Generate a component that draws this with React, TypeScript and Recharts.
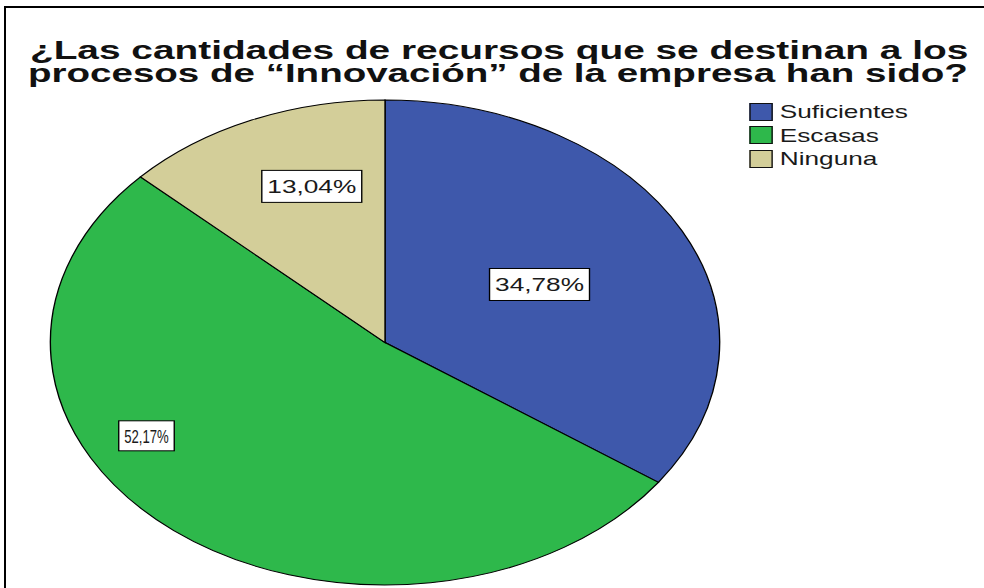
import React from 'react';
import { PieChart, Pie, Cell, Legend } from 'recharts';

// chart values
const categories = ['Suficientes', 'Escasas', 'Ninguna'];
const percentages = [34.78, 52.17, 13.04];
const titleLines = [
  '¿Las cantidades de recursos que se destinan a los',
  'procesos de “Innovación” de la empresa han sido?',
];

const COLORS = ['#3e58ab', '#2eb84b', '#d3ce99'];

// the source picture is stretched sideways; draw narrow and stretch the same way
const STRETCH = 1.38;
const W = 984 / STRETCH;
const H = 588;
const FONT = '"Liberation Sans", Arial, sans-serif';

// where SPSS dropped each percentage box (fraction of radius, angle nudge)
const LABEL_R = [0.52, 0.81, 0.68];
const LABEL_SHIFT = [0, -22.5, -4.7];
const LABEL_SQUEEZE = [1, 0.5, 1];

const chartData = categories.map((name, i) => ({ name, value: percentages[i] }));

const fmt = (v: number) => v.toFixed(2).replace('.', ',') + '%';

const charW = (s: string) =>
  s.split('').reduce((w, c) => w + (c === ',' ? 0.278 : c === '%' ? 0.889 : 0.556), 0);

const renderLabel = (props: any) => {
  const { cx, cy, midAngle, outerRadius, index, value } = props;
  const RAD = Math.PI / 180;
  const ang = (midAngle + LABEL_SHIFT[index]) * RAD;
  const r = outerRadius * LABEL_R[index];
  const x = cx + r * Math.cos(-ang);
  const y = cy + r * Math.sin(-ang);
  const text = fmt(value);
  const fs = 19;
  const tw = charW(text) * fs * LABEL_SQUEEZE[index];
  const bw = tw + 8;
  const bh = index === 1 ? 30 : 32;
  return (
    <g>
      <rect x={x - bw / 2} y={y - bh / 2} width={bw} height={bh} fill="#fff" stroke="#000" strokeWidth={1} />
      <text
        x={x}
        y={y + 7}
        textAnchor="middle"
        fontSize={fs}
        fontFamily={FONT}
        fill="#1a1a1a"
        textLength={tw}
        lengthAdjust="spacingAndGlyphs"
      >
        {text}
      </text>
    </g>
  );
};

const LegendBox = (props: any) => {
  const items = [...(props.payload || [])].sort(
    (a: any, b: any) => categories.indexOf(a.value) - categories.indexOf(b.value)
  );
  return (
    <div style={{ fontFamily: FONT, fontSize: 19, color: '#1a1a1a' }}>
      {items.map((p: any, i: number) => (
        <div key={i} style={{ display: 'flex', alignItems: 'center', height: 23.5 }}>
          <span
            style={{
              display: 'inline-block',
              width: 15,
              height: 16,
              background: p.color,
              border: '1px solid #111',
              marginRight: 5,
            }}
          />
          <span style={{ lineHeight: '19px' }}>{p.value}</span>
        </div>
      ))}
    </div>
  );
};

export default function App() {
  return (
    <div style={{ position: 'absolute', left: 0, top: 0, width: 984, height: 588, overflow: 'hidden', background: '#fff' }}>
      <div style={{ position: 'absolute', left: 4, top: 6, width: 980, height: 2, background: '#000' }} />
      <div style={{ position: 'absolute', left: 4, top: 6, width: 2, height: 582, background: '#000' }} />
      <div
        style={{
          position: 'absolute',
          left: 0,
          top: 0,
          width: W,
          height: H,
          transform: `scaleX(${STRETCH})`,
          transformOrigin: '0 0',
        }}
      >
        <svg width={W} height={100} style={{ position: 'absolute', left: 0, top: 0 }}>
          {titleLines.map((t, i) => (
            <text
              key={i}
              x={i === 0 ? 21.7 : 20.3}
              y={i === 0 ? 59.5 : 82}
              fontSize={26.5}
              fontWeight="bold"
              fontFamily={FONT}
              fill="#111"
              textLength={i === 0 ? 680 : 681}
              lengthAdjust="spacingAndGlyphs"
            >
              {t}
            </text>
          ))}
        </svg>
        <div style={{ position: 'absolute', left: 0, top: 0 }}>
          <PieChart width={W} height={H} margin={{ top: 0, right: 0, bottom: 0, left: 0 }}>
            <Pie
              data={chartData}
              dataKey="value"
              nameKey="name"
              cx={279}
              cy={342.5}
              outerRadius={242.5}
              startAngle={90}
              endAngle={-270}
              stroke="#000"
              strokeWidth={1}
              label={renderLabel}
              labelLine={false}
              isAnimationActive={false}
            >
              {chartData.map((entry, index) => (
                <Cell key={`cell-${index}`} fill={COLORS[index]} />
              ))}
            </Pie>
            <Legend
              layout="vertical"
              verticalAlign="top"
              align="right"
              content={<LegendBox />}
              wrapperStyle={{ left: 543, top: 100, width: 'auto', right: 'auto' }}
            />
          </PieChart>
        </div>
      </div>
    </div>
  );
}
